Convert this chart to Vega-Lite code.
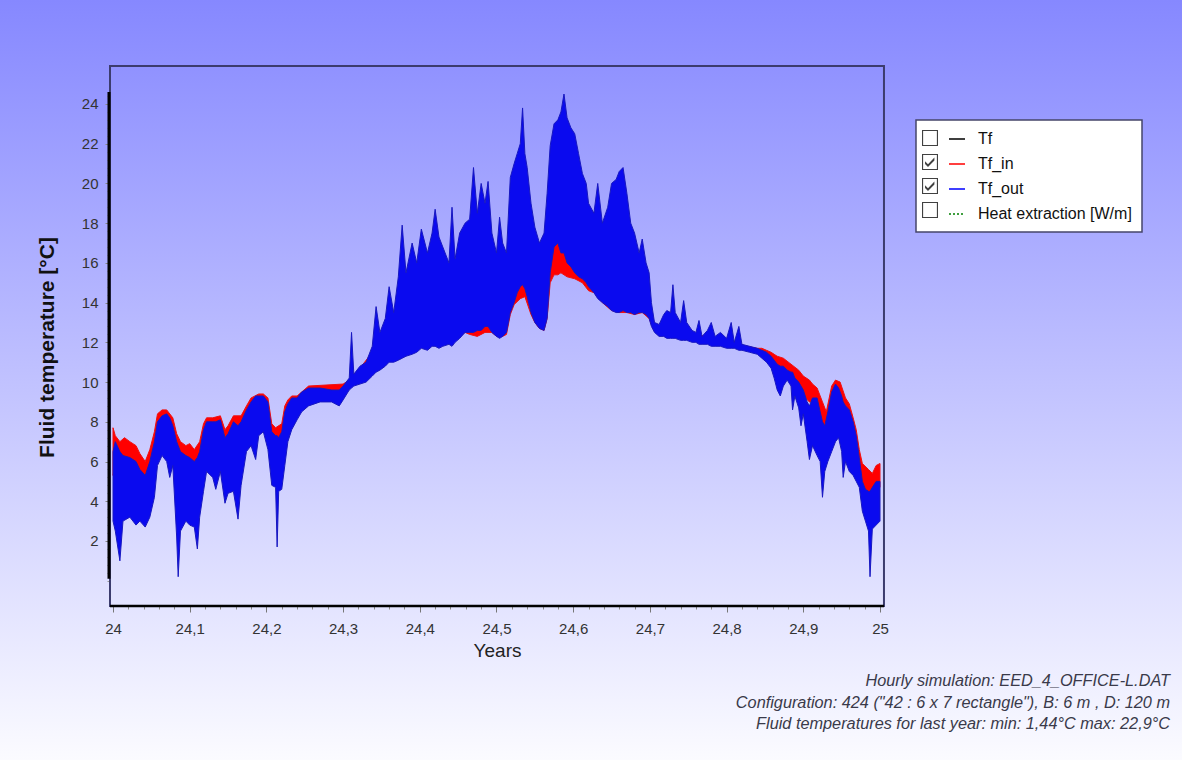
{
  "$schema": "https://vega.github.io/schema/vega-lite/v6.json",
  "width": 1182,
  "height": 760,
  "autosize": "none",
  "padding": 0,
  "background": "white",
  "view": {"stroke": null, "fill": {"expr": "{gradient: 'linear', x1: 0, y1: 0, x2: 0, y2: 1, stops: [{offset: 0, color: '#8688ff'}, {offset: 1, color: '#fbfbff'}]}"}},
  "title": {
    "text": ["Hourly simulation: EED_4_OFFICE-L.DAT", "Configuration: 424 (\"42 : 6 x 7 rectangle\"), B: 6 m , D: 120 m", "Fluid temperatures for last year: min: 1,44°C max: 22,9°C"],
    "orient": "bottom", "anchor": "end", "frame": "group", "offset": -87, "baseline": "top",
    "fontSize": 16.3, "fontStyle": "italic", "fontWeight": "normal", "color": "#3a3a4a",
    "lineHeight": 21.5, "dx": -12, "font": "Liberation Sans"
  },
  "resolve": {"axis": {"x": "independent", "y": "independent"}},
  "datasets": {
    "tf_out": [
      {"t":24.000,"lo":3.0,"hi":6.5},{"t":24.003,"lo":2.5,"hi":7.0},{"t":24.009,"lo":1.0,"hi":6.5},{"t":24.013,"lo":3.0,"hi":6.3},
      {"t":24.022,"lo":3.2,"hi":6.2},{"t":24.030,"lo":2.8,"hi":6.0},{"t":24.035,"lo":3.0,"hi":5.6},{"t":24.042,"lo":2.7,"hi":5.3},
      {"t":24.048,"lo":3.2,"hi":6.0},{"t":24.054,"lo":4.2,"hi":7.0},{"t":24.058,"lo":5.8,"hi":8.0},{"t":24.064,"lo":6.3,"hi":8.3},
      {"t":24.070,"lo":6.0,"hi":8.4},{"t":24.074,"lo":5.2,"hi":8.2},{"t":24.078,"lo":5.8,"hi":7.8},{"t":24.083,"lo":2.2,"hi":7.0},
      {"t":24.085,"lo":0.2,"hi":6.8},{"t":24.088,"lo":2.5,"hi":6.5},{"t":24.095,"lo":3.0,"hi":6.3},{"t":24.100,"lo":2.8,"hi":6.2},
      {"t":24.106,"lo":2.7,"hi":6.0},{"t":24.110,"lo":1.6,"hi":6.2},{"t":24.113,"lo":3.2,"hi":6.5},{"t":24.118,"lo":4.5,"hi":7.6},
      {"t":24.122,"lo":5.5,"hi":8.0},{"t":24.130,"lo":5.2,"hi":8.0},{"t":24.134,"lo":4.6,"hi":8.0},{"t":24.140,"lo":5.5,"hi":8.1},
      {"t":24.146,"lo":3.9,"hi":7.2},{"t":24.150,"lo":4.4,"hi":7.4},{"t":24.157,"lo":4.5,"hi":8.0},{"t":24.163,"lo":3.1,"hi":7.8},
      {"t":24.167,"lo":4.8,"hi":8.0},{"t":24.174,"lo":6.5,"hi":8.6},{"t":24.180,"lo":6.8,"hi":9.0},{"t":24.186,"lo":6.1,"hi":9.3},
      {"t":24.190,"lo":7.3,"hi":9.3},{"t":24.196,"lo":7.5,"hi":9.3},{"t":24.202,"lo":6.6,"hi":9.0},{"t":24.207,"lo":4.8,"hi":7.5},
      {"t":24.212,"lo":4.7,"hi":7.3},{"t":24.214,"lo":1.7,"hi":7.3},{"t":24.216,"lo":4.5,"hi":7.2},{"t":24.220,"lo":4.6,"hi":7.5},
      {"t":24.224,"lo":5.8,"hi":8.5},{"t":24.228,"lo":7.0,"hi":8.9},{"t":24.233,"lo":7.6,"hi":9.2},{"t":24.240,"lo":8.1,"hi":9.2},
      {"t":24.246,"lo":8.5,"hi":9.5},{"t":24.255,"lo":8.8,"hi":9.7},{"t":24.270,"lo":9.0,"hi":9.7},{"t":24.285,"lo":9.0,"hi":9.6},
      {"t":24.295,"lo":8.8,"hi":9.6},{"t":24.300,"lo":9.1,"hi":9.8},{"t":24.308,"lo":9.6,"hi":10.2},{"t":24.311,"lo":9.7,"hi":12.5},
      {"t":24.314,"lo":9.8,"hi":10.4},{"t":24.322,"lo":9.9,"hi":10.8},{"t":24.330,"lo":10.0,"hi":11.0},{"t":24.338,"lo":10.3,"hi":11.8},
      {"t":24.343,"lo":10.5,"hi":13.8},{"t":24.348,"lo":10.6,"hi":12.5},{"t":24.355,"lo":10.8,"hi":13.2},{"t":24.360,"lo":11.0,"hi":14.8},
      {"t":24.366,"lo":11.0,"hi":13.5},{"t":24.372,"lo":11.1,"hi":15.3},{"t":24.377,"lo":11.2,"hi":17.9},{"t":24.382,"lo":11.3,"hi":15.5},
      {"t":24.390,"lo":11.4,"hi":17.0},{"t":24.396,"lo":11.5,"hi":16.0},{"t":24.402,"lo":11.7,"hi":17.7},{"t":24.410,"lo":11.6,"hi":16.5},
      {"t":24.416,"lo":11.8,"hi":17.5},{"t":24.420,"lo":11.8,"hi":18.7},{"t":24.425,"lo":11.7,"hi":17.3},{"t":24.430,"lo":11.8,"hi":16.8},
      {"t":24.438,"lo":11.9,"hi":16.0},{"t":24.442,"lo":11.8,"hi":18.8},{"t":24.446,"lo":12.0,"hi":16.2},{"t":24.452,"lo":12.2,"hi":17.5},
      {"t":24.459,"lo":12.5,"hi":18.0},{"t":24.465,"lo":12.5,"hi":18.2},{"t":24.470,"lo":12.5,"hi":20.8},{"t":24.475,"lo":12.6,"hi":18.5},
      {"t":24.480,"lo":12.6,"hi":20.0},{"t":24.485,"lo":12.8,"hi":19.0},{"t":24.489,"lo":12.8,"hi":20.1},{"t":24.494,"lo":12.5,"hi":17.5},
      {"t":24.500,"lo":12.3,"hi":16.5},{"t":24.504,"lo":12.2,"hi":18.3},{"t":24.508,"lo":12.3,"hi":17.0},{"t":24.513,"lo":12.5,"hi":16.5},
      {"t":24.518,"lo":13.5,"hi":20.3},{"t":24.523,"lo":14.0,"hi":21.0},{"t":24.527,"lo":14.5,"hi":21.5},{"t":24.531,"lo":14.8,"hi":22.0},
      {"t":24.534,"lo":14.9,"hi":23.8},{"t":24.537,"lo":14.7,"hi":21.5},{"t":24.540,"lo":14.3,"hi":20.8},{"t":24.545,"lo":13.5,"hi":19.0},
      {"t":24.550,"lo":13.0,"hi":17.8},{"t":24.556,"lo":12.7,"hi":17.0},{"t":24.562,"lo":12.6,"hi":17.5},{"t":24.566,"lo":13.2,"hi":19.5},
      {"t":24.570,"lo":15.5,"hi":21.9},{"t":24.575,"lo":16.8,"hi":23.0},{"t":24.580,"lo":17.0,"hi":23.2},{"t":24.584,"lo":16.5,"hi":23.6},
      {"t":24.588,"lo":16.5,"hi":24.5},{"t":24.592,"lo":16.0,"hi":23.3},{"t":24.597,"lo":15.8,"hi":22.8},{"t":24.602,"lo":15.5,"hi":22.5},
      {"t":24.607,"lo":15.3,"hi":21.5},{"t":24.612,"lo":15.2,"hi":20.5},{"t":24.617,"lo":15.0,"hi":20.0},{"t":24.620,"lo":14.8,"hi":19.0},
      {"t":24.627,"lo":14.5,"hi":18.5},{"t":24.632,"lo":14.2,"hi":20.0},{"t":24.638,"lo":14.0,"hi":18.0},{"t":24.645,"lo":13.8,"hi":18.8},
      {"t":24.650,"lo":13.6,"hi":20.0},{"t":24.656,"lo":13.5,"hi":20.2},{"t":24.660,"lo":13.5,"hi":20.6},{"t":24.665,"lo":13.6,"hi":20.8},
      {"t":24.670,"lo":13.5,"hi":19.5},{"t":24.675,"lo":13.5,"hi":18.0},{"t":24.680,"lo":13.4,"hi":17.5},{"t":24.686,"lo":13.5,"hi":16.5},
      {"t":24.690,"lo":13.5,"hi":17.2},{"t":24.695,"lo":13.4,"hi":16.0},{"t":24.699,"lo":13.2,"hi":15.5},{"t":24.702,"lo":12.8,"hi":14.0},
      {"t":24.706,"lo":12.5,"hi":13.0},{"t":24.712,"lo":12.3,"hi":12.9},{"t":24.718,"lo":12.3,"hi":13.4},{"t":24.722,"lo":12.2,"hi":13.6},
      {"t":24.727,"lo":12.2,"hi":13.5},{"t":24.730,"lo":12.2,"hi":14.9},{"t":24.733,"lo":12.2,"hi":13.5},{"t":24.740,"lo":12.1,"hi":13.0},
      {"t":24.744,"lo":12.1,"hi":14.1},{"t":24.748,"lo":12.1,"hi":13.0},{"t":24.755,"lo":12.0,"hi":12.6},{"t":24.760,"lo":12.0,"hi":12.5},
      {"t":24.764,"lo":11.9,"hi":13.1},{"t":24.768,"lo":11.9,"hi":12.3},{"t":24.775,"lo":11.9,"hi":12.6},{"t":24.780,"lo":11.8,"hi":13.0},
      {"t":24.785,"lo":11.8,"hi":12.3},{"t":24.792,"lo":11.8,"hi":12.5},{"t":24.800,"lo":11.7,"hi":12.2},{"t":24.806,"lo":11.7,"hi":13.0},
      {"t":24.810,"lo":11.7,"hi":12.0},{"t":24.816,"lo":11.6,"hi":12.8},{"t":24.820,"lo":11.6,"hi":11.9},{"t":24.830,"lo":11.5,"hi":11.8},
      {"t":24.840,"lo":11.4,"hi":11.7},{"t":24.846,"lo":11.2,"hi":11.6},{"t":24.852,"lo":11.0,"hi":11.5},{"t":24.858,"lo":10.7,"hi":11.3},
      {"t":24.862,"lo":10.2,"hi":11.1},{"t":24.866,"lo":9.6,"hi":10.9},{"t":24.870,"lo":9.3,"hi":10.8},{"t":24.874,"lo":9.8,"hi":10.8},
      {"t":24.879,"lo":10.1,"hi":10.6},{"t":24.884,"lo":9.8,"hi":10.5},{"t":24.886,"lo":8.6,"hi":10.5},{"t":24.889,"lo":9.3,"hi":10.2},
      {"t":24.894,"lo":8.7,"hi":10.0},{"t":24.897,"lo":7.8,"hi":9.8},{"t":24.900,"lo":8.4,"hi":9.6},{"t":24.905,"lo":7.0,"hi":9.0},
      {"t":24.908,"lo":6.1,"hi":8.8},{"t":24.912,"lo":6.8,"hi":9.2},{"t":24.918,"lo":6.3,"hi":9.2},{"t":24.922,"lo":6.0,"hi":8.5},
      {"t":24.925,"lo":4.2,"hi":8.0},{"t":24.928,"lo":5.5,"hi":7.8},{"t":24.932,"lo":6.0,"hi":8.5},{"t":24.937,"lo":6.5,"hi":9.5},
      {"t":24.942,"lo":7.0,"hi":9.9},{"t":24.946,"lo":7.2,"hi":9.7},{"t":24.950,"lo":6.5,"hi":9.3},{"t":24.952,"lo":5.2,"hi":9.0},
      {"t":24.955,"lo":6.0,"hi":8.8},{"t":24.960,"lo":5.5,"hi":8.6},{"t":24.965,"lo":5.3,"hi":8.0},{"t":24.969,"lo":5.0,"hi":7.3},
      {"t":24.973,"lo":4.7,"hi":6.2},{"t":24.977,"lo":3.5,"hi":5.0},{"t":24.981,"lo":3.0,"hi":4.6},{"t":24.985,"lo":2.5,"hi":4.5},
      {"t":24.987,"lo":0.2,"hi":4.5},{"t":24.990,"lo":2.6,"hi":4.7},{"t":24.995,"lo":2.8,"hi":5.0},{"t":25.000,"lo":3.0,"hi":5.0}
    ],
    "tf_in": [
      {"t":24.000,"lo":5.3,"hi":7.7},{"t":24.003,"lo":5.8,"hi":7.3},{"t":24.009,"lo":5.3,"hi":7.0},{"t":24.015,"lo":5.1,"hi":7.2},
      {"t":24.022,"lo":5.0,"hi":7.0},{"t":24.030,"lo":4.8,"hi":6.8},{"t":24.035,"lo":4.4,"hi":6.4},{"t":24.042,"lo":4.1,"hi":6.0},
      {"t":24.048,"lo":4.8,"hi":6.6},{"t":24.054,"lo":5.8,"hi":7.5},{"t":24.058,"lo":6.8,"hi":8.4},{"t":24.064,"lo":7.1,"hi":8.6},
      {"t":24.070,"lo":7.2,"hi":8.6},{"t":24.078,"lo":6.6,"hi":8.2},{"t":24.083,"lo":5.8,"hi":7.4},{"t":24.088,"lo":5.3,"hi":7.0},
      {"t":24.095,"lo":5.1,"hi":6.8},{"t":24.100,"lo":5.0,"hi":6.9},{"t":24.106,"lo":4.8,"hi":6.6},{"t":24.113,"lo":5.3,"hi":7.0},
      {"t":24.118,"lo":6.4,"hi":7.9},{"t":24.122,"lo":6.8,"hi":8.2},{"t":24.130,"lo":6.8,"hi":8.2},{"t":24.140,"lo":6.9,"hi":8.3},
      {"t":24.146,"lo":6.0,"hi":7.6},{"t":24.150,"lo":6.2,"hi":7.8},{"t":24.157,"lo":6.8,"hi":8.3},{"t":24.167,"lo":6.8,"hi":8.3},
      {"t":24.174,"lo":7.4,"hi":8.8},{"t":24.180,"lo":7.8,"hi":9.2},{"t":24.190,"lo":8.1,"hi":9.4},{"t":24.196,"lo":8.1,"hi":9.4},
      {"t":24.202,"lo":7.8,"hi":9.2},{"t":24.207,"lo":6.3,"hi":7.9},{"t":24.212,"lo":6.1,"hi":7.7},{"t":24.220,"lo":6.3,"hi":7.9},
      {"t":24.224,"lo":7.3,"hi":8.8},{"t":24.228,"lo":7.7,"hi":9.1},{"t":24.233,"lo":8.0,"hi":9.3},{"t":24.240,"lo":8.4,"hi":9.3},
      {"t":24.255,"lo":9.0,"hi":9.8},{"t":24.300,"lo":9.3,"hi":9.9},{"t":24.308,"lo":9.8,"hi":10.1},{"t":24.322,"lo":10.1,"hi":10.7},
      {"t":24.338,"lo":10.5,"hi":11.5},{"t":24.348,"lo":10.8,"hi":12.0},{"t":24.360,"lo":11.2,"hi":12.5},{"t":24.372,"lo":11.3,"hi":12.8},
      {"t":24.390,"lo":11.5,"hi":13.0},{"t":24.402,"lo":11.8,"hi":13.2},{"t":24.416,"lo":11.9,"hi":13.3},{"t":24.430,"lo":11.9,"hi":13.5},
      {"t":24.446,"lo":12.1,"hi":13.6},{"t":24.452,"lo":12.3,"hi":13.8},{"t":24.459,"lo":12.5,"hi":14.0},{"t":24.465,"lo":12.4,"hi":14.0},
      {"t":24.475,"lo":12.3,"hi":14.0},{"t":24.485,"lo":12.5,"hi":14.2},{"t":24.494,"lo":12.5,"hi":14.0},{"t":24.500,"lo":12.3,"hi":14.0},
      {"t":24.508,"lo":12.3,"hi":14.0},{"t":24.513,"lo":12.4,"hi":14.5},{"t":24.518,"lo":13.4,"hi":15.0},{"t":24.523,"lo":13.9,"hi":15.5},
      {"t":24.531,"lo":14.2,"hi":15.8},{"t":24.537,"lo":14.3,"hi":15.5},{"t":24.545,"lo":13.4,"hi":15.0},{"t":24.550,"lo":13.0,"hi":14.5},
      {"t":24.556,"lo":12.7,"hi":14.0},{"t":24.562,"lo":12.6,"hi":14.2},{"t":24.566,"lo":13.2,"hi":15.0},{"t":24.570,"lo":15.0,"hi":16.5},
      {"t":24.575,"lo":15.4,"hi":17.2},{"t":24.580,"lo":15.4,"hi":17.2},{"t":24.584,"lo":15.5,"hi":17.0},{"t":24.592,"lo":15.3,"hi":16.8},
      {"t":24.602,"lo":15.2,"hi":16.5},{"t":24.612,"lo":15.0,"hi":16.3},{"t":24.620,"lo":14.6,"hi":16.0},{"t":24.627,"lo":14.5,"hi":15.8},
      {"t":24.638,"lo":14.0,"hi":15.5},{"t":24.650,"lo":13.6,"hi":15.0},{"t":24.660,"lo":13.5,"hi":15.0},{"t":24.670,"lo":13.5,"hi":14.8},
      {"t":24.680,"lo":13.4,"hi":14.5},{"t":24.690,"lo":13.5,"hi":14.5},{"t":24.699,"lo":13.2,"hi":14.0},{"t":24.702,"lo":12.9,"hi":13.6},
      {"t":24.706,"lo":12.6,"hi":12.9},{"t":24.712,"lo":12.4,"hi":12.8},{"t":24.722,"lo":12.3,"hi":13.0},{"t":24.740,"lo":12.2,"hi":12.8},
      {"t":24.760,"lo":12.1,"hi":12.4},{"t":24.785,"lo":11.9,"hi":12.2},{"t":24.800,"lo":11.8,"hi":12.1},{"t":24.820,"lo":11.7,"hi":11.85},
      {"t":24.840,"lo":11.5,"hi":11.7},{"t":24.846,"lo":11.4,"hi":11.7},{"t":24.852,"lo":11.2,"hi":11.6},{"t":24.858,"lo":11.0,"hi":11.5},
      {"t":24.862,"lo":10.9,"hi":11.4},{"t":24.866,"lo":10.6,"hi":11.3},{"t":24.874,"lo":10.4,"hi":11.2},{"t":24.884,"lo":10.2,"hi":10.9},
      {"t":24.894,"lo":9.6,"hi":10.6},{"t":24.900,"lo":9.3,"hi":10.3},{"t":24.908,"lo":9.0,"hi":10.1},{"t":24.912,"lo":9.0,"hi":9.9},
      {"t":24.918,"lo":8.6,"hi":9.7},{"t":24.925,"lo":7.2,"hi":9.0},{"t":24.930,"lo":7.0,"hi":8.5},{"t":24.937,"lo":8.0,"hi":9.8},
      {"t":24.942,"lo":8.8,"hi":10.1},{"t":24.948,"lo":8.8,"hi":10.0},{"t":24.955,"lo":7.8,"hi":9.2},{"t":24.960,"lo":7.5,"hi":8.9},
      {"t":24.965,"lo":7.0,"hi":8.2},{"t":24.969,"lo":6.4,"hi":7.6},{"t":24.973,"lo":5.5,"hi":6.6},{"t":24.977,"lo":4.6,"hi":5.9},
      {"t":24.985,"lo":4.4,"hi":5.6},{"t":24.990,"lo":4.5,"hi":5.4},{"t":24.995,"lo":4.6,"hi":5.8},{"t":25.000,"lo":4.7,"hi":5.9}
    ],
    "legend": [
      {"series": "Tf", "shown": false},
      {"series": "Tf_in", "shown": true},
      {"series": "Tf_out", "shown": true},
      {"series": "Heat extraction [W/m]", "shown": false}
    ]
  },
  "layer": [
    {
      "data": {"name": "tf_in"},
      "mark": {"type": "area", "color": "#ff0000", "stroke": "#f01010", "strokeWidth": 1},
      "encoding": {
        "x": {
          "field": "t", "type": "quantitative",
          "scale": {"domain": [23.852673, 25.393742], "nice": false, "zero": false},
          "axis": {
            "orient": "bottom", "offset": -154, "domain": false, "grid": false,
            "values": [24, 24.1, 24.2, 24.3, 24.4, 24.5, 24.6, 24.7, 24.8, 24.9, 25],
            "labelExpr": "replace(format(datum.value, '.1~f'), '.', ',')",
            "tickSize": 6, "tickColor": "#777777", "tickWidth": 1,
            "labelPadding": 9, "labelFontSize": 15, "labelColor": "#333333", "labelFont": "Liberation Sans",
            "labelOverlap": false, "labelFlush": false, "labelBound": false,
            "title": "Years", "titleFontSize": 19, "titleFontWeight": "normal", "titleColor": "#222222", "titleFont": "Liberation Sans",
            "titleX": 497, "titleY": 35, "titleAlign": "center", "titleBaseline": "top"
          }
        },
        "y": {
          "field": "lo", "type": "quantitative",
          "scale": {"domain": [-9.026, 29.234], "nice": false, "zero": false},
          "axis": {
            "orient": "left", "offset": -110, "domain": false, "grid": false,
            "values": [2, 4, 6, 8, 10, 12, 14, 16, 18, 20, 22, 24],
            "tickSize": 5, "tickColor": "#888888", "tickWidth": 1,
            "labelPadding": 7, "labelFontSize": 15, "labelColor": "#333333", "labelFont": "Liberation Sans",
            "labelOverlap": false, "labelFlush": false, "labelBound": false,
            "title": "Fluid temperature [°C]", "titleFontSize": 21, "titleFontWeight": "bold", "titleColor": "#111111", "titleFont": "Liberation Sans",
            "titleX": -63, "titleY": 347, "titleAlign": "center", "titleBaseline": "middle", "titleAngle": -90
          }
        },
        "y2": {"field": "hi"}
      }
    },
    {
      "data": {"name": "tf_out"},
      "mark": {"type": "area", "color": "#0a0aef", "stroke": "#1818c0", "strokeWidth": 1},
      "encoding": {
        "x": {"field": "t", "type": "quantitative", "axis": null},
        "y": {"field": "lo", "type": "quantitative", "axis": null},
        "y2": {"field": "hi"}
      }
    },
    {
      "data": {"values": [{}]},
      "mark": {"type": "rect", "filled": false, "fillOpacity": 0, "stroke": "#3c3c6e", "strokeWidth": 2},
      "encoding": {
        "x": {
          "datum": 23.99609, "type": "quantitative",
          "axis": {
            "orient": "bottom", "offset": -154, "domain": false, "grid": false, "labels": false, "title": null,
            "values": [24.02,24.04,24.06,24.08,24.12,24.14,24.16,24.18,24.22,24.24,24.26,24.28,24.32,24.34,24.36,24.38,24.42,24.44,24.46,24.48,24.52,24.54,24.56,24.58,24.62,24.64,24.66,24.68,24.72,24.74,24.76,24.78,24.82,24.84,24.86,24.88,24.92,24.94,24.96,24.98],
            "tickSize": 3, "tickColor": "#888888", "tickWidth": 1
          }
        },
        "x2": {"datum": 25.00518},
        "y": {
          "datum": 25.911, "type": "quantitative",
          "axis": {
            "orient": "left", "offset": -110, "domain": false, "grid": false, "labels": false, "title": null,
            "values": [0,0.4,0.8,1.2,1.6,2.4,2.8,3.2,3.6,4.4,4.8,5.2,5.6,6.4,6.8,7.2,7.6,8.4,8.8,9.2,9.6,10.4,10.8,11.2,11.6,12.4,12.8,13.2,13.6,14.4,14.8,15.2,15.6,16.4,16.8,17.2,17.6,18.4,18.8,19.2,19.6,20.4,20.8,21.2,21.6,22.4,22.8,23.2,23.6,24.4],
            "tickSize": 3, "tickColor": "#999999", "tickWidth": 1
          }
        },
        "y2": {"datum": -1.2737}
      }
    },
    {
      "data": {"values": [{}]},
      "mark": {"type": "rule", "color": "#000000", "strokeWidth": 3},
      "encoding": {
        "x": {"datum": 23.99479, "type": "quantitative", "axis": null},
        "y": {"datum": 0.1, "type": "quantitative", "axis": null},
        "y2": {"datum": 24.6}
      }
    },
    {
      "data": {"values": [{}]},
      "mark": {"type": "rule", "color": "#000000", "strokeWidth": 2.5},
      "encoding": {
        "x": {"datum": 23.99609, "type": "quantitative", "axis": null},
        "x2": {"datum": 25.00518},
        "y": {"datum": -1.2737, "type": "quantitative", "axis": null}
      }
    },
    {
      "data": {"name": "legend"},
      "mark": {"type": "line", "opacity": 0},
      "encoding": {
        "color": {
          "field": "series", "type": "nominal",
          "scale": {"domain": ["Tf", "Tf_in", "Tf_out", "Heat extraction [W/m]"], "range": ["#000000", "#ff0000", "#0000ff", "#008000"]},
          "legend": {
            "title": null, "orient": "none", "legendX": 916, "legendY": 120, "direction": "vertical",
            "padding": 10, "fillColor": "#ffffff", "strokeColor": "#45456a",
            "symbolType": "stroke", "symbolSize": 256, "symbolStrokeWidth": 1.5, "symbolOpacity": 1, "symbolOffset": 22,
            "labelOffset": 12, "labelFontSize": 16, "labelFont": "Liberation Sans", "labelColor": "#111111", "labelLimit": 300,
            "rowPadding": 8,
            "encode": {"symbols": {"update": {"strokeDash": {"signal": "datum.value === 'Heat extraction [W/m]' ? [2, 2] : [1, 0]"}}}}
          }
        }
      }
    },
    {
      "data": {"name": "legend"},
      "mark": {"type": "point", "filled": true, "color": "#404040", "opacity": 0},
      "encoding": {
        "shape": {
          "field": "series", "type": "nominal", "sort": null,
          "scale": {"range": [
            "M-1,-1H1V1H-1Z M-0.86,-0.86V0.86H0.86V-0.86Z",
            "M-1,-1H1V1H-1Z M-0.86,-0.86V0.86H0.86V-0.86Z M-0.62,-0.1L-0.25,0.28L0.55,-0.55L0.55,-0.2L-0.25,0.62L-0.62,0.24Z",
            "M-1,-1H1V1H-1Z M-0.86,-0.86V0.86H0.86V-0.86Z M-0.62,-0.1L-0.25,0.28L0.55,-0.55L0.55,-0.2L-0.25,0.62L-0.62,0.24Z",
            "M-1,-1H1V1H-1Z M-0.86,-0.86V0.86H0.86V-0.86Z"
          ]},
          "legend": {
            "title": null, "orient": "none", "legendX": 922, "legendY": 130, "direction": "vertical",
            "padding": 0, "fillColor": null, "strokeColor": null,
            "symbolSize": 256, "symbolOpacity": 1, "symbolFillColor": "#404040", "symbolStrokeWidth": 0,
            "labelExpr": "''", "labelFontSize": 16, "labelOffset": 0, "rowPadding": 8
          }
        }
      }
    }
  ],
  "config": {
    "font": "Liberation Sans",
    "legend": {"strokeWidth": 1.5}
  }
}
